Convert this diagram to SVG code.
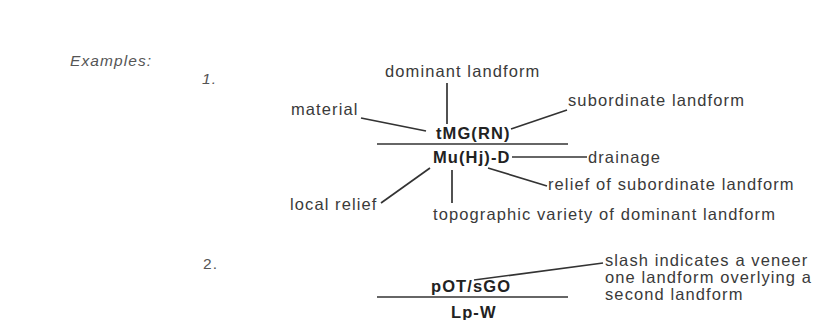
<svg xmlns="http://www.w3.org/2000/svg" width="814" height="320" viewBox="0 0 814 320">
<style>
text{font-family:"Liberation Sans",Arial,Helvetica,sans-serif;font-size:16.5px;fill:#3a3a3a;letter-spacing:1.1px}
.b{font-weight:bold;fill:#222}
.i{font-style:italic;fill:#555;font-size:15.5px}
.n{fill:#555;font-size:15.5px}
.c line{stroke:#333;stroke-width:1.7;fill:none}
</style>
<rect width="814" height="320" fill="#ffffff"/>
<g id="heading"><text class="i" x="70" y="66">Examples:</text></g>
<g id="num1"><text class="i" x="202" y="84">1.</text></g>
<g id="num2"><text class="n" x="203" y="269">2.</text></g>
<g id="dominant-landform"><text x="385" y="77">dominant landform</text></g>
<g id="material"><text x="291" y="115">material</text></g>
<g id="subordinate-landform"><text x="568" y="106">subordinate landform</text></g>
<g id="symbol1-top"><text class="b" x="436" y="139">tMG(RN)</text></g>
<g id="symbol1-bottom"><text class="b" x="433" y="163">Mu(Hj)-D</text></g>
<g id="drainage"><text x="588" y="163">drainage</text></g>
<g id="relief-subordinate"><text x="548" y="190">relief of subordinate landform</text></g>
<g id="local-relief"><text x="290" y="210">local relief</text></g>
<g id="topographic-variety"><text x="433" y="220">topographic variety of dominant landform</text></g>
<g id="symbol2-top"><text class="b" x="431" y="292">pOT/sGO</text></g>
<g id="symbol2-bottom"><text class="b" x="451" y="318">Lp-W</text></g>
<g id="slash-note">
<text x="605" y="266">slash indicates a veneer<tspan x="605" dy="17">one landform overlying a</tspan><tspan x="605" dy="17">second landform</tspan></text>
</g>
<g id="connectors" class="c">
<line x1="447" y1="83" x2="447" y2="124"/>
<line x1="361" y1="118" x2="426" y2="131"/>
<line x1="511" y1="129" x2="567" y2="110"/>
<line x1="377" y1="144" x2="568" y2="144"/>
<line x1="512" y1="157" x2="587" y2="157"/>
<line x1="488" y1="168" x2="547" y2="186"/>
<line x1="430" y1="168" x2="381" y2="203"/>
<line x1="452" y1="170" x2="452" y2="203"/>
<line x1="474" y1="280" x2="603" y2="263"/>
<line x1="377" y1="297" x2="568" y2="297"/>
</g>
</svg>
